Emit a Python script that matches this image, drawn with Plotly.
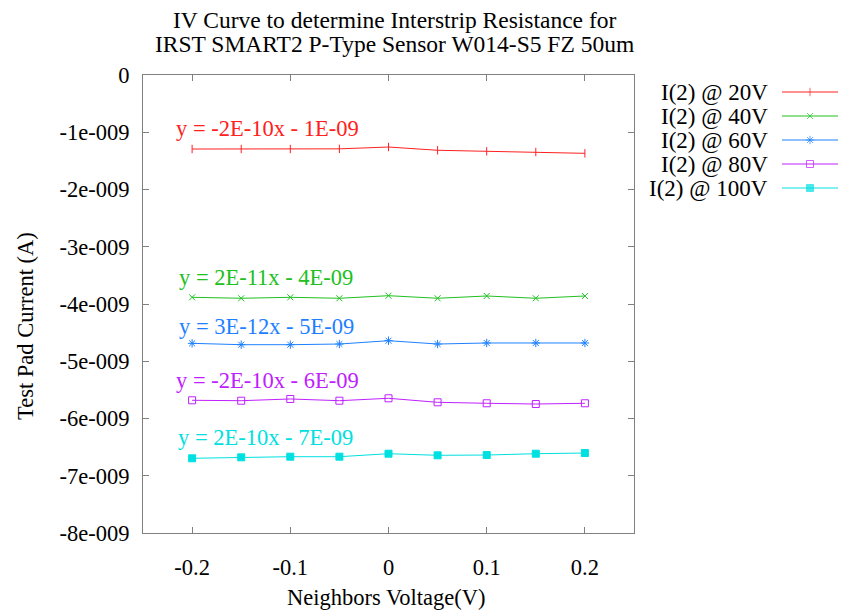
import plotly.graph_objects as go

x_volts = [-0.2, -0.15, -0.1, -0.05, 0.0, 0.05, 0.1, 0.15, 0.2]

i_20v = [-1.293e-9, -1.293e-9, -1.293e-9, -1.290e-9, -1.258e-9, -1.315e-9, -1.333e-9, -1.345e-9, -1.368e-9]
i_40v = [-3.883e-9, -3.900e-9, -3.883e-9, -3.900e-9, -3.855e-9, -3.900e-9, -3.860e-9, -3.900e-9, -3.860e-9]
i_60v = [-4.687e-9, -4.711e-9, -4.711e-9, -4.699e-9, -4.641e-9, -4.699e-9, -4.681e-9, -4.681e-9, -4.681e-9]
i_80v = [-5.682e-9, -5.689e-9, -5.659e-9, -5.689e-9, -5.647e-9, -5.717e-9, -5.734e-9, -5.747e-9, -5.734e-9]
i_100v = [-6.695e-9, -6.678e-9, -6.667e-9, -6.667e-9, -6.615e-9, -6.643e-9, -6.638e-9, -6.615e-9, -6.603e-9]

series_names = ["I(2) @ 20V", "I(2) @ 40V", "I(2) @ 60V", "I(2) @ 80V", "I(2) @ 100V"]
series_values = [i_20v, i_40v, i_60v, i_80v, i_100v]
series_colors = ["#ff2020", "#20c020", "#1e80ff", "#c020ff", "#00e0e0"]
series_symbols = ["line-ns", "x-thin", "asterisk-open", "square-open", "square"]
series_sizes = [6, 6, 7, 7, 7]
fit_labels = ["y = -2E-10x - 1E-09", "y = 2E-11x - 4E-09", "y = 3E-12x - 5E-09",
              "y = -2E-10x - 6E-09", "y = 2E-10x - 7E-09"]
fit_label_x = [-0.218, -0.215, -0.215, -0.218, -0.216]
fit_label_y = [-0.93e-9, -3.53e-9, -4.39e-9, -5.33e-9, -6.34e-9]

y_tickvals = [0, -1e-9, -2e-9, -3e-9, -4e-9, -5e-9, -6e-9, -7e-9, -8e-9]
y_ticktext = ["0", "-1e-009", "-2e-009", "-3e-009", "-4e-009", "-5e-009", "-6e-009", "-7e-009", "-8e-009"]
x_tickvals = [-0.2, -0.1, 0, 0.1, 0.2]
x_ticktext = ["-0.2", "-0.1", "0", "0.1", "0.2"]

title_lines = ["IV Curve to determine Interstrip Resistance for",
               "IRST SMART2 P-Type Sensor W014-S5 FZ 50um"]

FONT = "Liberation Serif"
W, H = 842, 611
PL, PR, PT, PB = 143, 634, 75, 533  # plot frame in pixels


def px(xp):
    return xp / W


def py(yp):
    return 1 - yp / H


fig = go.Figure()
for name, vals, col, sym, sz in zip(series_names, series_values, series_colors, series_symbols, series_sizes):
    fig.add_trace(go.Scatter(
        x=x_volts, y=vals, mode="lines+markers", name=name, showlegend=False,
        line=dict(color=col, width=1),
        marker=dict(symbol=sym, size=sz, color=col, line=dict(color=col, width=1)),
    ))

for txt, lx, ly, col in zip(fit_labels, fit_label_x, fit_label_y, series_colors):
    fig.add_annotation(x=lx, y=ly, xref="x", yref="y", text=txt, showarrow=False,
                       xanchor="left", yanchor="middle",
                       font=dict(family=FONT, size=22.5, color=col))

# custom legend (text left, sample right) on an overlay axis
legend_rows = [0, 1, 2, 3, 4]
for row, name, col, sym, sz in zip(legend_rows, series_names, series_colors, series_symbols, series_sizes):
    fig.add_trace(go.Scatter(
        x=[0, 0.5, 1], y=[row, row, row], xaxis="x2", yaxis="y2",
        mode="lines+markers", showlegend=False, hoverinfo="skip",
        line=dict(color=col, width=1),
        marker=dict(symbol=sym, size=[0, sz, 0], color=col, line=dict(color=col, width=1)),
    ))
    fig.add_annotation(x=0, y=row, xref="x2", yref="y2", text=name, showarrow=False,
                       xanchor="right", yanchor="middle", xshift=-12,
                       font=dict(family=FONT, size=23, color="#000000"))

for i, line in enumerate(title_lines):
    fig.add_annotation(x=px(394), y=py(20 + 24 * i), xref="paper", yref="paper", text=line,
                       showarrow=False, xanchor="center", yanchor="middle",
                       font=dict(family=FONT, size=23.5, color="#000000"))

fig.add_annotation(x=px(386), y=py(597), xref="paper", yref="paper", text="Neighbors Voltage(V)",
                   showarrow=False, xanchor="center", yanchor="middle",
                   font=dict(family=FONT, size=22.5, color="#000000"))
fig.add_annotation(x=px(25), y=py(326), xref="paper", yref="paper", text="Test Pad Current (A)",
                   showarrow=False, xanchor="center", yanchor="middle", textangle=-90,
                   font=dict(family=FONT, size=22.5, color="#000000"))

fig.update_layout(
    width=W, height=H,
    margin=dict(l=0, r=0, t=0, b=0),
    paper_bgcolor="white", plot_bgcolor="white",
    font=dict(family=FONT, size=22.5, color="#000000"),
    xaxis=dict(domain=[px(PL), px(PR)], range=[-0.25, 0.25], tickvals=x_tickvals, ticktext=x_ticktext,
               showgrid=False, zeroline=False, showline=True, linecolor="#808080", linewidth=1,
               mirror="ticks", ticks="inside", ticklen=6, tickcolor="#808080", automargin=False,
               ticklabelstandoff=14, tickfont=dict(family=FONT, size=22.5)),
    yaxis=dict(domain=[py(PB), py(PT)], range=[-8e-9, 0], tickvals=y_tickvals, ticktext=y_ticktext,
               showgrid=False, zeroline=False, showline=True, linecolor="#808080", linewidth=1,
               mirror="ticks", ticks="inside", ticklen=6, tickcolor="#808080", automargin=False,
               ticklabelstandoff=8, tickfont=dict(family=FONT, size=22.5)),
    xaxis2=dict(domain=[px(782), px(838)], range=[0, 1], anchor="y2",
                visible=False, fixedrange=True, automargin=False),
    yaxis2=dict(domain=[py(200), py(80)], range=[4.5, -0.5], anchor="x2",
                visible=False, fixedrange=True, automargin=False),
)

fig.write_html("out.html")
